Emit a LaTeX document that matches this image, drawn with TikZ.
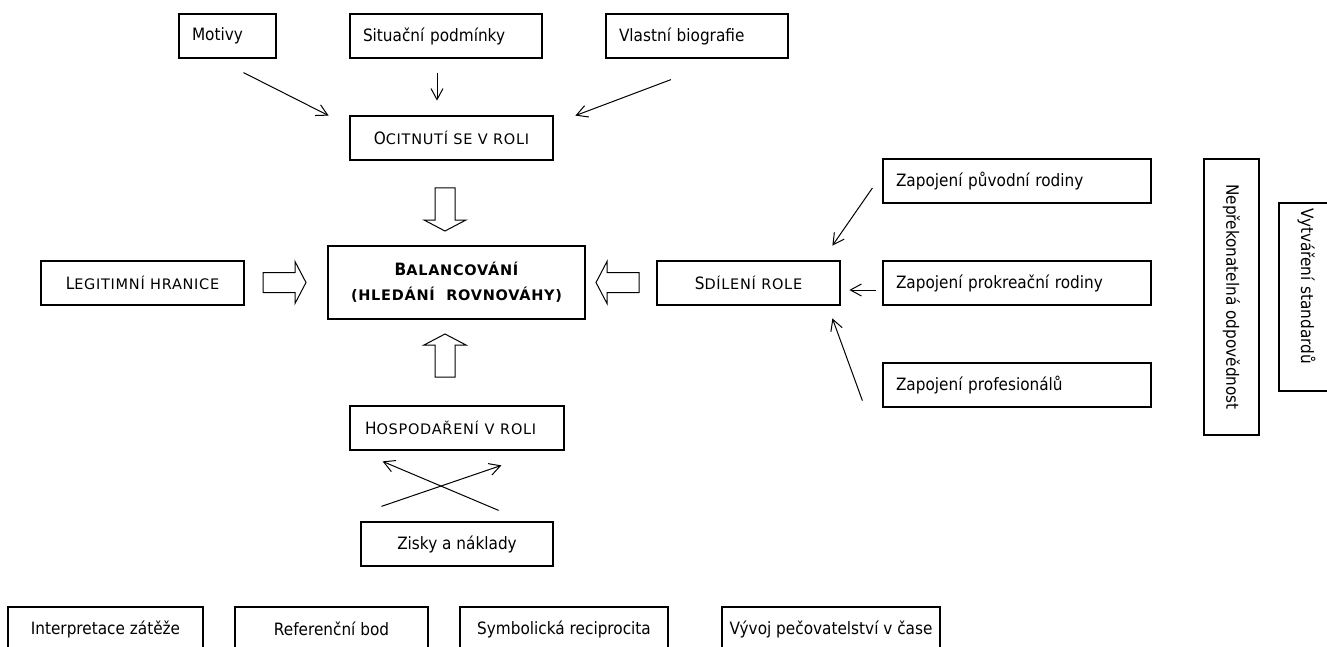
\documentclass[tikz,border=0pt]{standalone}
\usepackage{fontspec}
\setmainfont{DejaVu Sans}[FakeStretch=0.9]
\newfontfamily\capsfont{DejaVu Sans}[LetterSpace=5]
\usepackage{tikz}
\usetikzlibrary{arrows.meta}

\newcommand\smallcap[2]{#1{\capsfont\fontsize{14.5}{17}\selectfont #2}}

\tikzset{
  box/.style={draw, line width=1.2pt, minimum height=44pt, inner sep=0pt},
  bigbox/.style={box, line width=2.8pt},
  thin arrow/.style={line width=1pt, -{Straight Barb[length=11pt,width=12pt]}},
  blockarrow/.pic={\draw[line width=1pt, fill=white] (0,-10) -- (32,-10) -- (32,-21) -- (43,0) -- (32,21) -- (32,10) -- (0,10) -- cycle;}
}

\begin{document}
\begin{tikzpicture}[x=1pt, y=-1pt, font=\fontsize{17}{20}\selectfont]
    \path[use as bounding box, fill=white] (0,0) rectangle (1327,647);

    % Top row
    \node[box, inner xsep=13pt, text width=71pt, align=left] (motivy) at (227.5,36) {Motivy};
    \node[box, inner xsep=13pt, text width=166pt, align=left] (situacni) at (446,36) {Situační podmínky};
    \node[box, inner xsep=13pt, text width=156pt, align=left] (biografie) at (697,36) {Vlastní biografie};
    \node[bigbox, minimum width=203pt] (ocitnuti) at (451.5,138) {\smallcap{O}{CITNUTÍ SE V ROLI}};

    % Middle row
    \node[bigbox, minimum width=257pt, minimum height=73pt, align=center] (balanc) at (456.5,282.5)
        {\bfseries\smallcap{B}{ALANCOVÁNÍ}\\[5pt]\bfseries{\capsfont\fontsize{14.5}{17}\selectfont (HLEDÁNÍ\ \ ROVNOVÁHY)}};
    \node[bigbox, minimum width=203pt] (hranice) at (142.5,283) {\smallcap{L}{EGITIMNÍ HRANICE}};
    \node[bigbox, minimum width=183pt] (sdileni) at (748.5,283) {\smallcap{S}{DÍLENÍ ROLE}};

    % Right column
    \node[box, inner xsep=13pt, text width=242pt, align=left] (puvodni) at (1017,181) {Zapojení původní rodiny};
    \node[box, inner xsep=13pt, text width=242pt, align=left] (prokreacni) at (1017,283) {Zapojení prokreační rodiny};
    \node[box, inner xsep=13pt, text width=242pt, align=left] (profesionalu) at (1017,385) {Zapojení profesionálů};
    \node[box, minimum width=276pt, minimum height=55pt, rotate=-90] (odpovednost) at (1231.5,297) {Nepřekonatelná odpovědnost};
    \node[box, minimum height=55pt, inner xsep=5pt, text width=178pt, align=left, rotate=-90] (standardy) at (1306.5,297) {Vytváření standardů};

    % Lower part
    \node[bigbox, inner xsep=15pt, text width=184pt, align=left] (hospodareni) at (457,428) {\smallcap{H}{OSPODAŘENÍ V ROLI}};
    \node[box, minimum width=192pt] (zisky) at (457,544) {Zisky a náklady};

    % Bottom row
    \node[box, minimum width=195pt] (zatez) at (105.5,629) {Interpretace zátěže};
    \node[box, minimum width=193pt] (bod) at (331.5,629) {Referenční bod};
    \node[box, minimum width=208pt] (reciprocita) at (564,629) {Symbolická reciprocita};
    \node[box, minimum width=218pt] (vyvoj) at (831,629) {Vývoj pečovatelství v čase};

    % Thin arrows
    \draw[thin arrow] ([shift={(16,14)}]motivy.south) -- ([shift={(-20,1)}]ocitnuti.north west);
    \draw[thin arrow] ([shift={(-9,14)}]situacni.south) -- ([shift={(-14.5,-14)}]ocitnuti.north);
    \draw[thin arrow] ([shift={(-26,21)}]biografie.south) -- ([shift={(21,1)}]ocitnuti.north east);
    \draw[thin arrow] ([shift={(-10,7)}]puvodni.west) -- ([shift={(-9,-14)}]sdileni.north east);
    \draw[thin arrow] ([shift={(-6,7)}]prokreacni.west) -- ([shift={(8,7)}]sdileni.east);
    \draw[thin arrow] ([shift={(-20,-7)}]profesionalu.south west) -- ([shift={(-9,12)}]sdileni.south east);
    \draw[thin arrow] ([shift={(21,-15)}]zisky.north west) -- ([shift={(-64,14)}]hospodareni.south east);
    \draw[thin arrow] ([shift={(-55,-11)}]zisky.north east) -- ([shift={(34,10)}]hospodareni.south west);

    % Block arrows into the centre
    \pic[rotate=-90] at (445,188) {blockarrow};
    \pic[rotate=90] at (445,377) {blockarrow};
    \pic at (263,282.5) {blockarrow};
    \pic[rotate=180] at (639,282.5) {blockarrow};
\end{tikzpicture}
\end{document}
